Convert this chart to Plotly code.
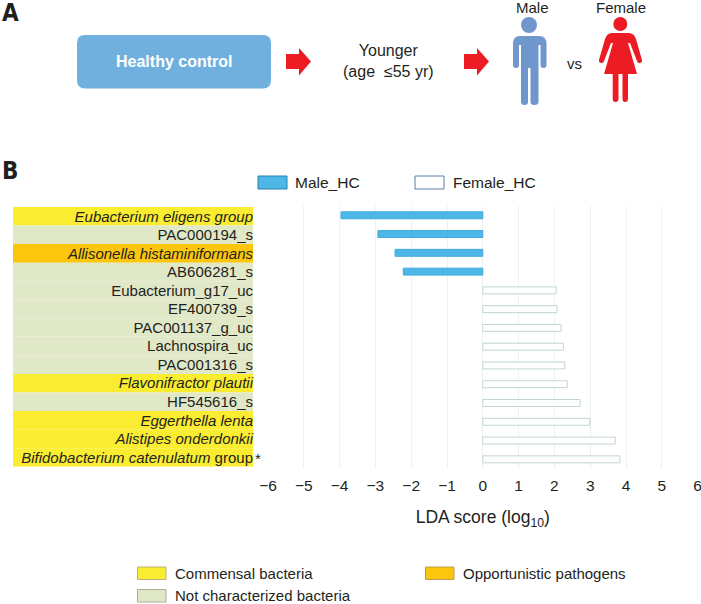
import plotly.graph_objects as go

W, H = 701, 604
FONT = "Liberation Sans"
INK = "#231f20"

# chart values
taxa = ["<i>Eubacterium eligens group</i>", "PAC000194_s", "<i>Allisonella histaminiformans</i>",
        "AB606281_s", "Eubacterium_g17_uc", "EF400739_s", "PAC001137_g_uc", "Lachnospira_uc",
        "PAC001316_s", "<i>Flavonifractor plautii</i>", "HF545616_s", "<i>Eggerthella lenta</i>",
        "<i>Alistipes onderdonkii</i>", "<i>Bifidobacterium catenulatum</i> group"]
taxa_type = ["Commensal", "Other", "Opportunistic", "Other", "Other", "Other", "Other", "Other",
             "Other", "Commensal", "Other", "Commensal", "Commensal", "Commensal"]
male_scores = [-3.96, -2.93, -2.45, -2.22]
female_scores = [2.05, 2.07, 2.19, 2.25, 2.29, 2.36, 2.72, 2.99, 3.70, 3.83]
score_ticks = [-6, -5, -4, -3, -2, -1, 0, 1, 2, 3, 4, 5, 6]
type_colors = {"Commensal": "#f9ec31", "Other": "#e1e8c8", "Opportunistic": "#fcc60e"}

MALE_BLUE = "#4db8e8"


def fx(x):
    return x / W


def fy(y):
    return 1 - y / H


def path(cmds):
    # pixel path string -> paper coordinates
    out, is_x = [], True
    for tok in cmds.split():
        if tok.isalpha():
            out.append(tok)
            is_x = True
        elif is_x:
            out.append(f"{fx(float(tok)):.5f}")
            is_x = False
        else:
            out.append(f"{fy(float(tok)):.5f}")
            is_x = True
    return " ".join(out)


def blob(cmds, color):
    return dict(type="path", xref="paper", yref="paper", path=path(cmds),
                fillcolor=color, line=dict(width=0))


def circle(cx, cy, r, color):
    return dict(type="circle", xref="paper", yref="paper", x0=fx(cx - r), x1=fx(cx + r),
                y0=fy(cy - r), y1=fy(cy + r), fillcolor=color, line=dict(width=0))


def swatch(x0, y0, x1, y1, color, edge):
    return dict(type="rect", xref="paper", yref="paper", x0=fx(x0), x1=fx(x1), y0=fy(y0), y1=fy(y1),
                fillcolor=color, line=dict(color=edge, width=1))


def label(x, y, text, size=15, anchor="left", color=INK, family=FONT):
    return dict(x=fx(x), y=fy(y), xref="paper", yref="paper", text=text, showarrow=False,
                xanchor=anchor, yanchor="middle", font=dict(family=family, size=size, color=color))


def arrow(x0):
    return blob(f"M {x0} 54 L {x0+13} 54 L {x0+13} 48 L {x0+25} 61.5 L {x0+13} 75.5 L {x0+13} 69 L {x0} 69 Z",
                "#ed1c24")


fig = go.Figure()

# coloured taxon cells on their own axes
fig.add_trace(go.Bar(x=[1] * len(taxa), y=taxa, orientation="h", width=1, xaxis="x2", yaxis="y2",
                     marker=dict(color=[type_colors[t] for t in taxa_type], line=dict(width=0)),
                     showlegend=False, hoverinfo="y"))

fig.add_trace(go.Bar(x=male_scores, y=taxa[:4], orientation="h", width=0.37, name="Male_HC",
                     marker=dict(color=MALE_BLUE, line=dict(color="#3fabdc", width=1)), showlegend=False))
fig.add_trace(go.Bar(x=female_scores, y=taxa[4:], orientation="h", width=0.37, name="Female_HC",
                     marker=dict(color="white", line=dict(color="#c3d4d3", width=1)), showlegend=False))

shapes = [
    # panel A
    blob("M 85 35 L 263 35 Q 271 35 271 43 L 271 80.5 Q 271 88.5 263 88.5 L 85 88.5 Q 77 88.5 77 80.5 "
         "L 77 43 Q 77 35 85 35 Z", "#6fb0de"),
    arrow(286), arrow(464),
    circle(529, 25, 8, "#6f97cc"),
    blob("M 520 36 L 539 36 Q 546.5 36 546.5 44 L 546.5 65 Q 546.5 68 543.5 68 Q 540.5 68 540.5 65 L 540.5 45 "
         "L 538.5 45 L 538.5 102 Q 538.5 105 534.5 105 Q 530.5 105 530.5 102 L 530.5 68 L 528 68 L 528 102 "
         "Q 528 105 524.5 105 Q 521 105 521 102 L 521 45 L 519 45 L 519 65 Q 519 68 516 68 Q 513 68 513 65 "
         "L 513 44 Q 513 36 520 36 Z", "#6f97cc"),
    circle(620.3, 24, 7, "#ed1c24"),
    blob("M 612 33 L 629 33 Q 634 33 636 39 L 642 60 Q 642.5 62.5 640 63 Q 637.5 63.5 637 61 L 630 43 L 628 43 "
         "L 637 74 L 628 74 L 628 99 Q 628 102 625 102 Q 622.5 102 622.5 99 L 622.5 74 L 618.5 74 L 618.5 99 "
         "Q 618.5 102 615.5 102 Q 612.7 102 612.7 99 L 612.7 74 L 604 74 L 613 43 L 611 43 L 604 61 "
         "Q 603.5 63.5 601 63 Q 598.5 62.5 599 60 L 605 39 Q 607 33 612 33 Z", "#ed1c24"),
    # legends
    swatch(258, 176, 287, 189, MALE_BLUE, "#2f7fb0"),
    swatch(415, 176, 444, 189, "white", "#5b7fa6"),
    swatch(137.5, 567, 166, 579.5, type_colors["Commensal"], "#b9b27a"),
    swatch(137.5, 589.5, 166, 602, type_colors["Other"], "#a9ad98"),
    swatch(425.5, 567, 454, 579.5, type_colors["Opportunistic"], "#b99a5a"),
]

annotations = [
    label(0, 13, "<b>A</b>", size=24, family="DejaVu Sans Condensed, Liberation Sans"),
    label(0, 171, "<b>B</b>", size=24, family="DejaVu Sans Condensed, Liberation Sans"),
    label(174, 62, "<b>Healthy control</b>", size=16, anchor="center", color="white"),
    label(388, 61.5, "Younger<br>(age  ≤55 yr)", size=16, anchor="center"),
    label(532, 7, "Male", anchor="center"),
    label(621, 7, "Female", anchor="center"),
    label(574, 63, "vs", anchor="center"),
    label(293, 182, "Male_HC", size=15.5),
    label(451, 182, "Female_HC", size=15.5),
    label(173, 573, "Commensal bacteria", size=15),
    label(173, 595.5, "Not characterized bacteria", size=15),
    label(461, 573, "Opportunistic pathogens", size=15),
    label(252.5, 458, "*", size=15),
]

fig.update_layout(
    width=W, height=H, margin=dict(l=0, r=0, t=0, b=0), autosize=False,
    paper_bgcolor="white", plot_bgcolor="white", barmode="overlay", showlegend=False,
    font=dict(family=FONT, color=INK),
    shapes=shapes, annotations=annotations,
    xaxis=dict(domain=[fx(268), fx(697.6)], range=[-6, 6], tickvals=score_ticks, anchor="y", automargin=False,
               showgrid=True, gridcolor="#eef1f1", gridwidth=1, zeroline=False, showline=False,
               ticks="outside", ticklen=3, tickcolor="white", tickfont=dict(size=15.5), ticklabeloverflow="allow",
               title=dict(text="LDA score (log<sub>10</sub>)", font=dict(size=17.5), standoff=17)),
    yaxis=dict(domain=[fy(468.7), fy(205.9)], categoryorder="array", categoryarray=taxa, automargin=False,
               autorange="reversed", showticklabels=False, showgrid=False, zeroline=False, ticks="", anchor="x"),
    xaxis2=dict(domain=[fx(13), fx(253)], range=[0, 1], visible=False, anchor="y2", automargin=False),
    yaxis2=dict(domain=[fy(466.7), fy(207)], categoryorder="array", categoryarray=taxa, automargin=False,
                autorange="reversed", anchor="x2", side="right", ticklabelposition="inside", ticklabelstandoff=-3,
                showgrid=False, zeroline=False, showline=False, ticks="",
                tickfont=dict(size=15, color=INK)),
)

fig.write_html("out.html", config={"displayModeBar": False}, post_script="document.body.style.margin='0';")
